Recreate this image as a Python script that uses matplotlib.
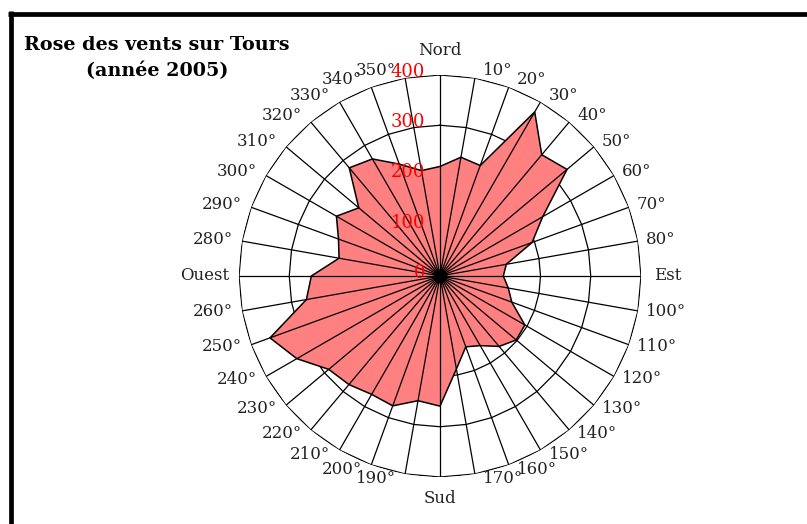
import numpy as np
import matplotlib
matplotlib.use("Agg")
import matplotlib.pyplot as plt
from matplotlib.lines import Line2D

# Data: wind direction (degrees, clockwise from North) and frequency
directions = [0, 10, 20, 30, 40, 50, 60, 70, 80, 90, 100, 110, 120, 130, 140, 150, 160, 170,
              180, 190, 200, 210, 220, 230, 240, 250, 260, 270, 280, 290, 300, 310, 320, 330, 340, 350]
values = [218, 240, 234, 377, 315, 330, 236, 195, 134, 126, 138, 152, 195, 198, 183, 160, 150, 188,
          259, 252, 275, 272, 282, 289, 329, 360, 270, 256, 204, 215, 238, 211, 281, 269, 237, 213]
direction_labels = ["Nord", "10°", "20°", "30°", "40°", "50°", "60°", "70°", "80°", "Est",
                    "100°", "110°", "120°", "130°", "140°", "150°", "160°", "170°", "Sud",
                    "190°", "200°", "210°", "220°", "230°", "240°", "250°", "260°", "Ouest",
                    "280°", "290°", "300°", "310°", "320°", "330°", "340°", "350°"]
ring_values = [100, 200, 300, 400]
ring_labels = ["0", "100", "200", "300", "400"]
title = "Rose des vents sur Tours\n(année 2005)"

rmax = 400
fig = plt.figure(figsize=(8.07, 5.24), dpi=100)
W, H = 807, 524
cx, cy, R = 440, 276, 201
ax = fig.add_axes([(cx - R) / W, (H - cy - R) / H, 2 * R / W, 2 * R / H], projection="polar")
ax.set_theta_zero_location("N")
ax.set_theta_direction(-1)
ax.set_ylim(0, rmax)
ax.grid(False)
ax.set_xticks([])
ax.set_yticks([])
ax.spines["polar"].set_visible(False)
ax.patch.set_alpha(0)

theta = np.deg2rad(directions)
theta_closed = np.append(theta, theta[0])

# rings (polygonal)
for rv in ring_values:
    ax.plot(theta_closed, np.full(len(theta_closed), rv), color="black", lw=0.9, zorder=1)

# filled rose
vals_closed = np.append(values, values[0])
ax.fill(theta_closed, vals_closed, facecolor="#FF8080", edgecolor="black", lw=1.1, zorder=2)

# spokes
for t in theta:
    ax.plot([t, t], [0, rmax], color="black", lw=0.9, zorder=3)

# center dot
ax.plot([0], [0], "o", color="black", ms=9, zorder=4, clip_on=False)

# radial labels
for i, lab in enumerate(ring_labels):
    ax.annotate(lab, xy=(0, i * 100), xytext=(-15, 3), textcoords="offset pixels",
                ha="right", va="center", color="red", fontsize=13,
                family="DejaVu Serif", zorder=5, annotation_clip=False)

# direction labels
for d, lab in zip(directions, direction_labels):
    s = np.sin(np.deg2rad(d))
    c = np.cos(np.deg2rad(d))
    if lab == "Nord":
        ha, va, off = "center", "bottom", (0, 16)
    elif lab == "Sud":
        ha, va, off = "center", "top", (0, -13)
    elif lab == "Est":
        ha, va, off = "left", "center", (13, 0)
    elif lab == "Ouest":
        ha, va, off = "right", "center", (-10, 0)
    else:
        ha = "left" if s > 0 else "right"
        dx = 8 if s > 0 else -9
        dy = 8 * c if c > 0 else 5 * c
        off = (dx, dy)
        va = "center"
    ax.annotate(lab, xy=(np.deg2rad(d), rmax), xytext=off, textcoords="offset pixels",
                ha=ha, va=va, fontsize=12, family="DejaVu Serif", color="#222222",
                annotation_clip=False)

# title
fig.text(157 / W, 1 - 58 / H, title, ha="center", va="center", fontsize=13.8,
         fontweight="bold", family="DejaVu Serif", linespacing=1.5)

# frame (top and left border)
fig.add_artist(Line2D([8 / W, 1.0], [1 - 13.5 / H, 1 - 13.5 / H], color="black", lw=3.4,
                      transform=fig.transFigure, solid_capstyle="butt"))
fig.add_artist(Line2D([10.5 / W, 10.5 / W], [0, 1 - 11 / H], color="black", lw=3.4,
                      transform=fig.transFigure, solid_capstyle="butt"))

fig.savefig("out.png", dpi=100)
